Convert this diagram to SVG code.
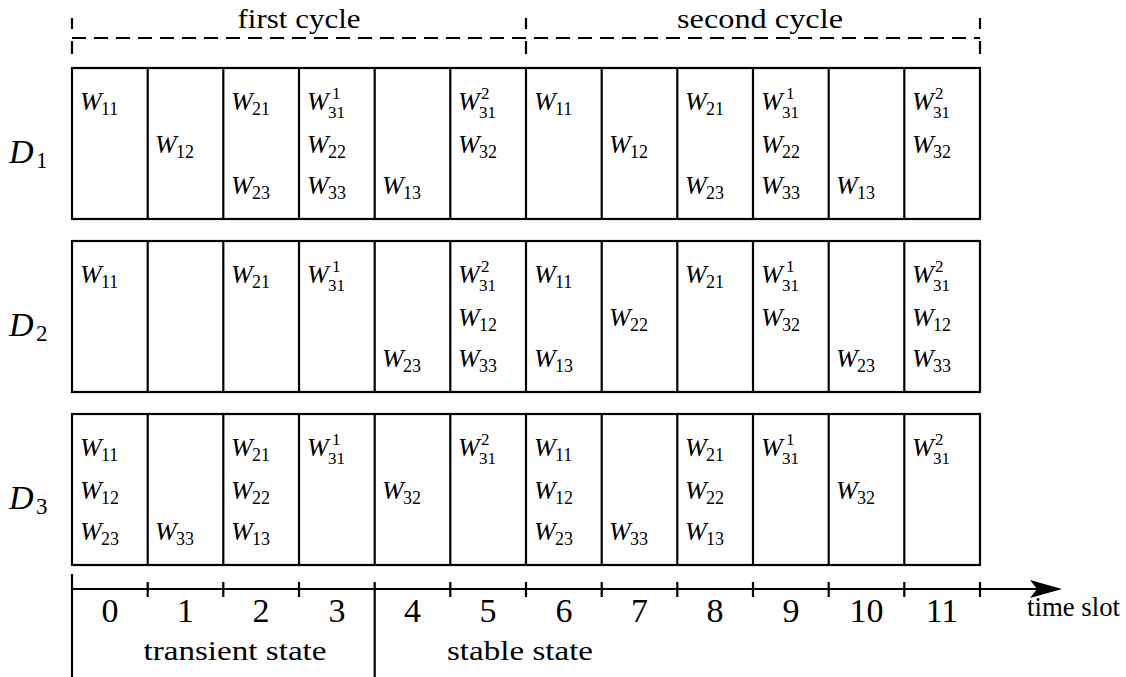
<svg xmlns="http://www.w3.org/2000/svg" width="1126" height="677" viewBox="0 0 1126 677">
<style>
.w{font-family:"Liberation Serif","DejaVu Serif",serif;font-style:italic;font-size:26px;fill:#000}
.s{font-style:normal;font-size:18px}
.p{font-style:normal;font-size:17px}
.t{font-family:"Liberation Serif","DejaVu Serif",serif;font-size:28px;fill:#000}
.n{font-family:"Liberation Serif","DejaVu Serif",serif;font-size:34px;fill:#000;text-anchor:middle}
.d{font-family:"Liberation Serif","DejaVu Serif",serif;font-style:italic;font-size:34px;fill:#000}
.ds{font-style:normal;font-size:23px}
.box{fill:#fff;stroke:#000;stroke-width:2.2}
.ln{stroke:#000;stroke-width:2.2;fill:none}
.dash{stroke:#000;stroke-width:2;stroke-dasharray:14 8;fill:none}
</style>
<defs>
<g id="cols">
<rect class="box" x="72" y="0" width="908" height="151"/>
<path class="ln" d="M147.7,0V151M223.3,0V151M299,0V151M374.7,0V151M450.3,0V151M526,0V151M601.7,0V151M677.3,0V151M753,0V151M828.7,0V151M904.3,0V151"/>
</g>
</defs>

<g id="cycles">
<line class="dash" x1="72" y1="38" x2="980" y2="38"/>
<path class="ln" stroke-width="2" d="M72,18V29M72,41V54M526,18V29M526,41V54M980,18V29M980,41V54"/>
<text class="t" x="299" y="28" text-anchor="middle" textLength="123" lengthAdjust="spacingAndGlyphs">first cycle</text>
<text class="t" x="760" y="28" text-anchor="middle" textLength="166" lengthAdjust="spacingAndGlyphs">second  cycle</text>
</g>

<g id="D1">
<use href="#cols" y="68"/>
<text class="d" x="9" y="163">D<tspan class="ds" x="36" dy="5">1</tspan></text>
<g transform="translate(0,110)">
<text class="w" x="80" y="0">W<tspan class="s" x="101" dy="5">11</tspan></text>
<text class="w" x="231" y="0">W<tspan class="s" x="252" dy="5">21</tspan></text>
<text class="w" x="307" y="0">W<tspan class="p" x="332" dy="-11">1</tspan><tspan class="p" x="328" dy="18.5">31</tspan></text>
<text class="w" x="458" y="0">W<tspan class="p" x="481" dy="-11">2</tspan><tspan class="p" x="479" dy="18.5">31</tspan></text>
<text class="w" x="534" y="0">W<tspan class="s" x="555" dy="5">11</tspan></text>
<text class="w" x="685" y="0">W<tspan class="s" x="706" dy="5">21</tspan></text>
<text class="w" x="761" y="0">W<tspan class="p" x="786" dy="-11">1</tspan><tspan class="p" x="782" dy="18.5">31</tspan></text>
<text class="w" x="912" y="0">W<tspan class="p" x="935" dy="-11">2</tspan><tspan class="p" x="933" dy="18.5">31</tspan></text>
</g>
<g transform="translate(0,153)">
<text class="w" x="155" y="0">W<tspan class="s" x="176" dy="5">12</tspan></text>
<text class="w" x="307" y="0">W<tspan class="s" x="328" dy="5">22</tspan></text>
<text class="w" x="458" y="0">W<tspan class="s" x="479" dy="5">32</tspan></text>
<text class="w" x="609" y="0">W<tspan class="s" x="630" dy="5">12</tspan></text>
<text class="w" x="761" y="0">W<tspan class="s" x="782" dy="5">22</tspan></text>
<text class="w" x="912" y="0">W<tspan class="s" x="933" dy="5">32</tspan></text>
</g>
<g transform="translate(0,194)">
<text class="w" x="231" y="0">W<tspan class="s" x="252" dy="5">23</tspan></text>
<text class="w" x="307" y="0">W<tspan class="s" x="328" dy="5">33</tspan></text>
<text class="w" x="382" y="0">W<tspan class="s" x="403" dy="5">13</tspan></text>
<text class="w" x="685" y="0">W<tspan class="s" x="706" dy="5">23</tspan></text>
<text class="w" x="761" y="0">W<tspan class="s" x="782" dy="5">33</tspan></text>
<text class="w" x="836" y="0">W<tspan class="s" x="857" dy="5">13</tspan></text>
</g>
</g>

<g id="D2">
<use href="#cols" y="241"/>
<text class="d" x="9" y="336">D<tspan class="ds" x="36" dy="5">2</tspan></text>
<g transform="translate(0,283)">
<text class="w" x="80" y="0">W<tspan class="s" x="101" dy="5">11</tspan></text>
<text class="w" x="231" y="0">W<tspan class="s" x="252" dy="5">21</tspan></text>
<text class="w" x="307" y="0">W<tspan class="p" x="332" dy="-11">1</tspan><tspan class="p" x="328" dy="18.5">31</tspan></text>
<text class="w" x="458" y="0">W<tspan class="p" x="481" dy="-11">2</tspan><tspan class="p" x="479" dy="18.5">31</tspan></text>
<text class="w" x="534" y="0">W<tspan class="s" x="555" dy="5">11</tspan></text>
<text class="w" x="685" y="0">W<tspan class="s" x="706" dy="5">21</tspan></text>
<text class="w" x="761" y="0">W<tspan class="p" x="786" dy="-11">1</tspan><tspan class="p" x="782" dy="18.5">31</tspan></text>
<text class="w" x="912" y="0">W<tspan class="p" x="935" dy="-11">2</tspan><tspan class="p" x="933" dy="18.5">31</tspan></text>
</g>
<g transform="translate(0,326)">
<text class="w" x="458" y="0">W<tspan class="s" x="479" dy="5">12</tspan></text>
<text class="w" x="609" y="0">W<tspan class="s" x="630" dy="5">22</tspan></text>
<text class="w" x="761" y="0">W<tspan class="s" x="782" dy="5">32</tspan></text>
<text class="w" x="912" y="0">W<tspan class="s" x="933" dy="5">12</tspan></text>
</g>
<g transform="translate(0,367)">
<text class="w" x="382" y="0">W<tspan class="s" x="403" dy="5">23</tspan></text>
<text class="w" x="458" y="0">W<tspan class="s" x="479" dy="5">33</tspan></text>
<text class="w" x="534" y="0">W<tspan class="s" x="555" dy="5">13</tspan></text>
<text class="w" x="836" y="0">W<tspan class="s" x="857" dy="5">23</tspan></text>
<text class="w" x="912" y="0">W<tspan class="s" x="933" dy="5">33</tspan></text>
</g>
</g>

<g id="D3">
<use href="#cols" y="414"/>
<text class="d" x="9" y="509">D<tspan class="ds" x="36" dy="5">3</tspan></text>
<g transform="translate(0,456)">
<text class="w" x="80" y="0">W<tspan class="s" x="101" dy="5">11</tspan></text>
<text class="w" x="231" y="0">W<tspan class="s" x="252" dy="5">21</tspan></text>
<text class="w" x="307" y="0">W<tspan class="p" x="332" dy="-11">1</tspan><tspan class="p" x="328" dy="18.5">31</tspan></text>
<text class="w" x="458" y="0">W<tspan class="p" x="481" dy="-11">2</tspan><tspan class="p" x="479" dy="18.5">31</tspan></text>
<text class="w" x="534" y="0">W<tspan class="s" x="555" dy="5">11</tspan></text>
<text class="w" x="685" y="0">W<tspan class="s" x="706" dy="5">21</tspan></text>
<text class="w" x="761" y="0">W<tspan class="p" x="786" dy="-11">1</tspan><tspan class="p" x="782" dy="18.5">31</tspan></text>
<text class="w" x="912" y="0">W<tspan class="p" x="935" dy="-11">2</tspan><tspan class="p" x="933" dy="18.5">31</tspan></text>
</g>
<g transform="translate(0,499)">
<text class="w" x="80" y="0">W<tspan class="s" x="101" dy="5">12</tspan></text>
<text class="w" x="231" y="0">W<tspan class="s" x="252" dy="5">22</tspan></text>
<text class="w" x="382" y="0">W<tspan class="s" x="403" dy="5">32</tspan></text>
<text class="w" x="534" y="0">W<tspan class="s" x="555" dy="5">12</tspan></text>
<text class="w" x="685" y="0">W<tspan class="s" x="706" dy="5">22</tspan></text>
<text class="w" x="836" y="0">W<tspan class="s" x="857" dy="5">32</tspan></text>
</g>
<g transform="translate(0,540)">
<text class="w" x="80" y="0">W<tspan class="s" x="101" dy="5">23</tspan></text>
<text class="w" x="155" y="0">W<tspan class="s" x="176" dy="5">33</tspan></text>
<text class="w" x="231" y="0">W<tspan class="s" x="252" dy="5">13</tspan></text>
<text class="w" x="534" y="0">W<tspan class="s" x="555" dy="5">23</tspan></text>
<text class="w" x="609" y="0">W<tspan class="s" x="630" dy="5">33</tspan></text>
<text class="w" x="685" y="0">W<tspan class="s" x="706" dy="5">13</tspan></text>
</g>
</g>

<g id="axis">
<line class="ln" x1="72" y1="589" x2="1040" y2="589"/>
<path d="M1062,589 L1030,580 L1037,589 L1030,598 Z" fill="#000"/>
<path class="ln" d="M72,574V677M374.7,582V677M147.7,582V597M223.3,582V597M299,582V597M450.3,582V597M526,582V597M601.7,582V597M677.3,582V597M753,582V597M828.7,582V597M904.3,582V597M980,582V597"/>
<text class="n" x="110" y="622">0</text>
<text class="n" x="185.5" y="622">1</text>
<text class="n" x="261" y="622">2</text>
<text class="n" x="337" y="622">3</text>
<text class="n" x="412.5" y="622">4</text>
<text class="n" x="488" y="622">5</text>
<text class="n" x="564" y="622">6</text>
<text class="n" x="639.5" y="622">7</text>
<text class="n" x="715" y="622">8</text>
<text class="n" x="791" y="622">9</text>
<text class="n" x="866.5" y="622">10</text>
<text class="n" x="942" y="622">11</text>
<text class="t" x="1027" y="616" font-size="19" textLength="93" lengthAdjust="spacingAndGlyphs">time slot</text>
<text class="t" x="235" y="660" text-anchor="middle" textLength="183" lengthAdjust="spacingAndGlyphs">transient state</text>
<text class="t" x="520" y="660" text-anchor="middle" textLength="146" lengthAdjust="spacingAndGlyphs">stable state</text>
</g>
</svg>
